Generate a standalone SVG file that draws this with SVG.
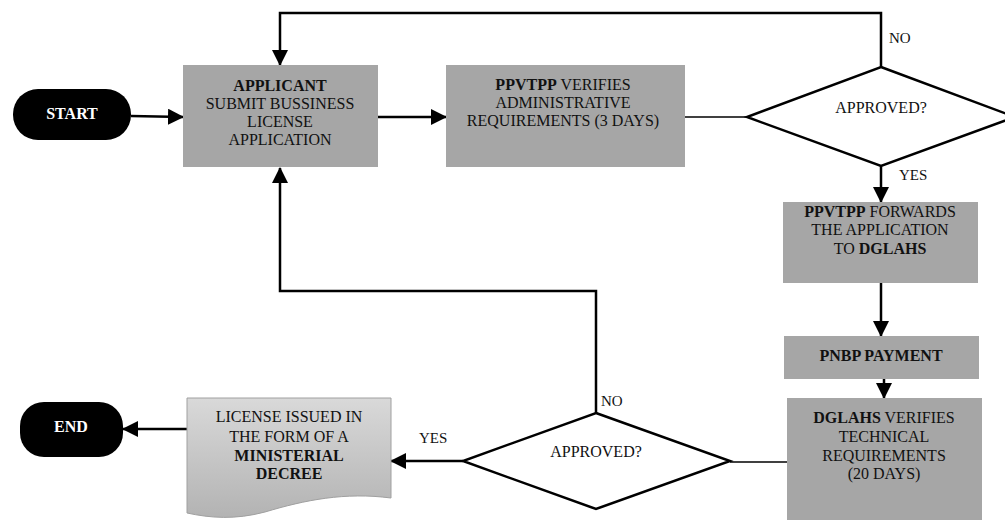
<svg xmlns="http://www.w3.org/2000/svg" width="1005" height="520" viewBox="0 0 1005 520">
  <style>
    text { font-family: "Liberation Serif", "Times New Roman", serif; font-size: 16px; fill: #111; text-anchor: middle; }
    .b { font-weight: bold; }
    .w { fill: #fff; font-weight: bold; }
    .lbl { font-size: 15px; text-anchor: start; }
    .box { fill: #a6a6a6; }
    .term { fill: #000; }
    .dia { fill: #fff; stroke: #000; stroke-width: 2.5; }
    .thick { fill: none; stroke: #000; stroke-width: 2.5; }
    .thin { fill: none; stroke: #000; stroke-width: 1.5; }
  </style>
  <defs>
    <marker id="arr" viewBox="0 0 16 16" refX="15" refY="8" markerWidth="16" markerHeight="16" markerUnits="userSpaceOnUse" orient="auto">
      <path d="M0,0 L16,8 L0,16 Z" fill="#000"/>
    </marker>
    <linearGradient id="docg" x1="0" y1="0" x2="0" y2="1">
      <stop offset="0" stop-color="#d9d9d9"/>
      <stop offset="1" stop-color="#b3b3b3"/>
    </linearGradient>
  </defs>

  <g id="connectors">
    <line class="thick" x1="131" y1="116" x2="183" y2="117" marker-end="url(#arr)"/>
    <line class="thick" x1="378" y1="117" x2="446" y2="117" marker-end="url(#arr)"/>
    <line class="thin" x1="685" y1="117" x2="747" y2="117"/>
    <polyline class="thick" points="881,67 881,13 280,13 280,65" marker-end="url(#arr)"/>
    <line class="thick" x1="881" y1="166" x2="881" y2="202" marker-end="url(#arr)"/>
    <line class="thick" x1="881" y1="283" x2="881" y2="336" marker-end="url(#arr)"/>
    <line class="thick" x1="884" y1="379" x2="884" y2="398" marker-end="url(#arr)"/>
    <line class="thin" x1="787" y1="462" x2="730" y2="462"/>
    <polyline class="thick" points="596,413 596,291 280,291 280,168" marker-end="url(#arr)"/>
    <line class="thick" x1="463" y1="461" x2="391" y2="461" marker-end="url(#arr)"/>
    <line class="thick" x1="187" y1="429" x2="123" y2="429" marker-end="url(#arr)"/>
    <text class="lbl" x="889" y="43">NO</text>
    <text class="lbl" x="899" y="180">YES</text>
    <text class="lbl" x="601" y="406">NO</text>
    <text class="lbl" x="419" y="443">YES</text>
  </g>

  <g id="start">
    <rect class="term" x="13" y="89" width="118" height="51" rx="25"/>
    <text class="w" x="72" y="119">START</text>
  </g>

  <g id="applicant">
    <rect class="box" x="183" y="65" width="195" height="102"/>
    <text x="280" y="91"><tspan class="b">APPLICANT</tspan></text>
    <text x="280" y="109">SUBMIT BUSSINESS</text>
    <text x="280" y="127">LICENSE</text>
    <text x="280" y="145">APPLICATION</text>
  </g>

  <g id="ppvtpp-verify">
    <rect class="box" x="446" y="65" width="239" height="102"/>
    <text x="563" y="90"><tspan class="b">PPVTPP</tspan> VERIFIES</text>
    <text x="563" y="108">ADMINISTRATIVE</text>
    <text x="563" y="126">REQUIREMENTS (3 DAYS)</text>
  </g>

  <g id="decision1">
    <polygon class="dia" points="881,67 1015,117 881,166 747,117"/>
    <text x="881" y="113">APPROVED?</text>
  </g>

  <g id="ppvtpp-forward">
    <rect class="box" x="783" y="202" width="195" height="81"/>
    <text x="880" y="217"><tspan class="b">PPVTPP</tspan> FORWARDS</text>
    <text x="880" y="235">THE APPLICATION</text>
    <text x="880" y="254">TO <tspan class="b">DGLAHS</tspan></text>
  </g>

  <g id="pnbp">
    <rect class="box" x="784" y="336" width="195" height="43"/>
    <text class="b" x="881" y="361">PNBP PAYMENT</text>
  </g>

  <g id="dglahs">
    <rect class="box" x="787" y="398" width="195" height="122"/>
    <text x="884" y="423"><tspan class="b">DGLAHS</tspan> VERIFIES</text>
    <text x="884" y="442">TECHNICAL</text>
    <text x="884" y="461">REQUIREMENTS</text>
    <text x="884" y="479">(20 DAYS)</text>
  </g>

  <g id="decision2">
    <polygon class="dia" points="596,413 730,461 596,509 463,461"/>
    <text x="596" y="457">APPROVED?</text>
  </g>

  <g id="license">
    <path d="M187,398 H391 V498 C345,492 305,500 265,512 C235,520 210,518 187,513 Z" fill="url(#docg)" stroke="#a0a0a0" stroke-width="1"/>
    <text x="289" y="422">LICENSE ISSUED IN</text>
    <text x="289" y="442">THE FORM OF A</text>
    <text class="b" x="289" y="461">MINISTERIAL</text>
    <text class="b" x="289" y="479">DECREE</text>
  </g>

  <g id="end">
    <rect class="term" x="20" y="402" width="103" height="55" rx="24"/>
    <text class="w" x="71" y="432">END</text>
  </g>
</svg>
